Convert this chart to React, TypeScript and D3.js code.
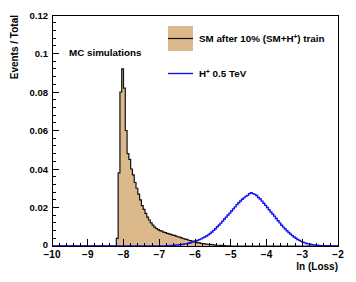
import React from 'react';
import * as d3 from 'd3';

// bin edges are 0.05 wide in ln(Loss)
const binWidth = 0.05;

// SM after 10% (SM+H+) train, first bin starts at -8.2
const smStart = -8.2;
const smValues = [
  0.004, 0.038, 0.080, 0.092, 0.082, 0.060, 0.048, 0.045, 0.040, 0.037,
  0.033, 0.030, 0.027, 0.024, 0.021, 0.019, 0.017, 0.015, 0.0135, 0.012,
  0.0108, 0.0098, 0.0091, 0.0085, 0.0080, 0.0077, 0.0072, 0.0069, 0.0066, 0.0063,
  0.0060, 0.0057, 0.0055, 0.0051, 0.0048, 0.0046, 0.0042, 0.0039, 0.0036, 0.0034,
  0.0030, 0.0028, 0.0025, 0.0022, 0.0020, 0.0018, 0.0016, 0.0014, 0.0013, 0.0011,
  0.0010, 0.0009, 0.0008, 0.0007, 0.0006, 0.0005, 0.0004, 0.0004, 0.0003, 0.0002,
  0.0002, 0.0001, 0.0001, 0.0001,
];

// H+ 0.5 TeV, first bin starts at -6.8
const hpStart = -6.8;
const hpValues = [
  0.0002, 0.0002, 0.0003, 0.0003, 0.0004, 0.0005, 0.0005, 0.0007, 0.0008, 0.0009,
  0.0011, 0.0012, 0.0014, 0.0017, 0.0020, 0.0023, 0.0026, 0.0029, 0.0033, 0.0037,
  0.0042, 0.0047, 0.0052, 0.0058, 0.0065, 0.0073, 0.0081, 0.0090, 0.0100, 0.0109,
  0.0119, 0.0129, 0.0140, 0.0150, 0.0161, 0.0171, 0.0182, 0.0193, 0.0203, 0.0215,
  0.0225, 0.0234, 0.0243, 0.0250, 0.0258, 0.0263, 0.0272, 0.0277, 0.0272, 0.0268,
  0.0262, 0.0252, 0.0244, 0.0233, 0.0222, 0.0211, 0.0200, 0.0188, 0.0177, 0.0166,
  0.0155, 0.0143, 0.0131, 0.0120, 0.0108, 0.0098, 0.0088, 0.0079, 0.0070, 0.0062,
  0.0054, 0.0047, 0.0040, 0.0034, 0.0029, 0.0024, 0.0020, 0.0016, 0.0013, 0.0011,
  0.0009, 0.0007, 0.0006, 0.0005, 0.0004, 0.0003, 0.0002, 0.0002, 0.0001, 0.0001,
  0.0001,
];

const xTicks = [-10, -9, -8, -7, -6, -5, -4, -3, -2];
const yTicks = [0, 0.02, 0.04, 0.06, 0.08, 0.1, 0.12];
const yTickLabels = ['0', '0.02', '0.04', '0.06', '0.08', '0.1', '0.12'];

const W = 356;
const H = 282;
const margin = { top: 15, right: 18, bottom: 36, left: 52 };
const font = '"Liberation Sans", Arial, Helvetica, sans-serif';

function toPoints(start: number, values: number[]) {
  const pts: [number, number][] = [[-10, 0]];
  values.forEach((v, i) => pts.push([start + i * binWidth, v]));
  const end = start + values.length * binWidth;
  pts.push([end, 0]);
  pts.push([-2, 0]);
  return pts;
}

export default function App() {
  const x = d3.scaleLinear().domain([-10, -2]).range([margin.left, W - margin.right]);
  const y = d3.scaleLinear().domain([0, 0.12]).range([H - margin.bottom, margin.top]);

  const smPts = toPoints(smStart, smValues);
  const hpPts = toPoints(hpStart, hpValues);

  const area = d3.area<[number, number]>()
    .x(d => x(d[0]))
    .y0(y(0))
    .y1(d => y(d[1]))
    .curve(d3.curveStepAfter);
  const line = d3.line<[number, number]>()
    .x(d => x(d[0]))
    .y(d => y(d[1]))
    .curve(d3.curveStepAfter);

  const x0 = x(-10), x1 = x(-2), y0 = y(0), y1 = y(0.12);
  const xMinor = d3.range(0, 41).map(i => -10 + i * 0.2);
  const yMinor = d3.range(0, 31).map(i => i * 0.004);

  return (
    <svg width={W} height={H} style={{ position: 'absolute', left: 0, top: 0, background: '#fff' }}>
      <rect width={W} height={H} fill="#fff" />

      <path d={area(smPts) || ''} fill="#dcb98a" stroke="none" />
      <path d={line(smPts) || ''} fill="none" stroke="#111" strokeWidth={1.2} />
      <path d={line(hpPts) || ''} fill="none" stroke="#1010f0" strokeWidth={1.4} />

      {/* frame */}
      <rect x={x0} y={y1} width={x1 - x0} height={y0 - y1} fill="none" stroke="#000" strokeWidth={1} shapeRendering="crispEdges" />

      {/* x axis ticks */}
      {xMinor.map((t, i) => (
        <line key={'xm' + i} x1={x(t)} x2={x(t)} y1={y0} y2={y0 - (i % 5 === 0 ? 7 : 3.5)} stroke="#000" strokeWidth={1} shapeRendering="crispEdges" />
      ))}
      {xTicks.map(t => (
        <text key={'xl' + t} x={x(t)} y={y0 + 12} textAnchor="middle" fontFamily={font} fontWeight="bold" fontSize={10}>
          {t < 0 ? '\u2212' + Math.abs(t) : t}
        </text>
      ))}

      {/* y axis ticks */}
      {yMinor.map((t, i) => (
        <line key={'ym' + i} x1={x0} x2={x0 + (i % 5 === 0 ? 7 : 3.5)} y1={y(t)} y2={y(t)} stroke="#000" strokeWidth={1} shapeRendering="crispEdges" />
      ))}
      {yTicks.map((t, i) => (
        <text key={'yl' + t} x={x0 - 4} y={y(t) + (t === 0 ? 2 : 3.5)} textAnchor="end" fontFamily={font} fontWeight="bold" fontSize={9.5}>
          {yTickLabels[i]}
        </text>
      ))}

      {/* axis titles */}
      <text x={x1} y={270} textAnchor="end" fontFamily={font} fontWeight="bold" fontSize={10}>ln (Loss)</text>
      <text transform={`translate(18,${y1}) rotate(-90)`} textAnchor="end" fontFamily={font} fontWeight="bold" fontSize={10}>Events / Total</text>

      <text x={69} y={56} fontFamily={font} fontWeight="bold" fontSize={9.8}>MC simulations</text>

      {/* legend */}
      <rect x={168} y={26} width={25} height={25} fill="#dcb98a" />
      <line x1={168} x2={193} y1={38.5} y2={38.5} stroke="#111" strokeWidth={1.2} />
      <text x={199} y={42} fontFamily={font} fontWeight="bold" fontSize={9.8}>
        SM after 10% (SM+H<tspan dy={-3.5} fontSize={6.5}>+</tspan><tspan dy={3.5}>) train</tspan>
      </text>
      <line x1={168} x2={193} y1={73.5} y2={73.5} stroke="#1010f0" strokeWidth={1.4} />
      <text x={199} y={77} fontFamily={font} fontWeight="bold" fontSize={9.8}>
        H<tspan dy={-3.5} fontSize={6.5}>+</tspan><tspan dy={3.5}> 0.5 TeV</tspan>
      </text>
    </svg>
  );
}
